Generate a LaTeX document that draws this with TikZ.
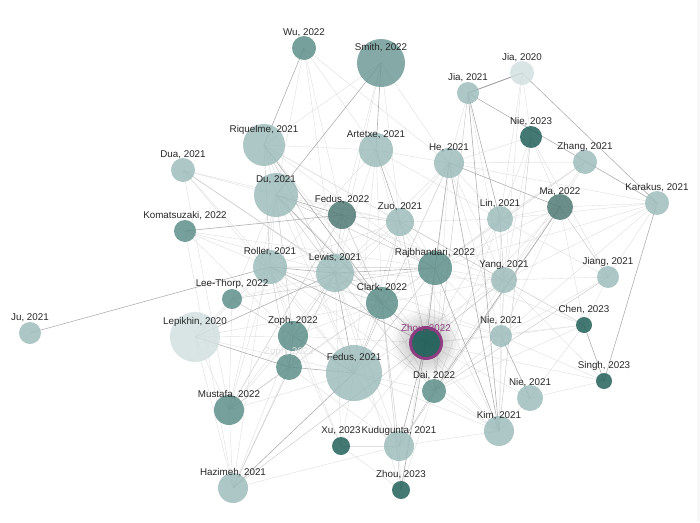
\documentclass[tikz,border=0pt]{standalone}
\usepackage{fontspec}
\setmainfont{Liberation Sans}
\usetikzlibrary{backgrounds}

\definecolor{yrA}{HTML}{D2E0DF} % 2020
\definecolor{yrB}{HTML}{9DBDBB} % 2021
\definecolor{yrC}{HTML}{5E8F8A} % 2022
\definecolor{yrD}{HTML}{22605A} % 2023
\definecolor{hilite}{HTML}{8E3D80}
\definecolor{labeltext}{HTML}{262626}

\begin{document}
\begin{tikzpicture}[x=1pt, y=-1pt]
		\tikzstyle{paper}=[circle, inner sep=0pt, fill opacity=0.85]
		\tikzstyle{lbl}=[font=\fontsize{9.8}{11}\selectfont, text=labeltext, text opacity=1, fill opacity=1, inner sep=0pt, yshift=15pt]
		\tikzstyle{weak}=[gray!26, line width=0.4pt]
		\tikzstyle{mid}=[gray!42, line width=0.45pt]
		\tikzstyle{strong}=[gray!62, line width=0.6pt]

		\useasboundingbox (0,0) rectangle (700,522);
		\fill[gray!6] (697,0) rectangle (700,522);

		% papers, coloured by year
		\node[paper, fill=yrC, minimum size=24pt, label={[lbl]center:{Wu, 2022}}] (wu) at (304,48) {};
		\node[paper, fill=yrC!90!white, minimum size=48pt, label={[lbl]center:{Smith, 2022}}] (smith) at (381,63) {};
		\node[paper, fill=yrB, minimum size=42pt, label={[lbl]center:{Riquelme, 2021}}] (riquelme) at (264,145) {};
		\node[paper, fill=yrB, minimum size=24pt, label={[lbl]center:{Dua, 2021}}] (dua) at (183,170) {};
		\node[paper, fill=yrB, minimum size=44pt, label={[lbl]center:{Du, 2021}}] (du) at (276,195) {};
		\node[paper, fill=yrC!85!black, minimum size=28pt, label={[lbl]center:{Fedus, 2022}}] (fedus22) at (342,215) {};
		\node[paper, fill=yrC, minimum size=22pt, label={[lbl]center:{Komatsuzaki, 2022}}] (komatsuzaki) at (185,231) {};
		\node[paper, fill=yrB, minimum size=34pt, label={[lbl]center:{Roller, 2021}}] (roller) at (270,267) {};
		\node[paper, fill=yrB, minimum size=34pt, label={[lbl]center:{Artetxe, 2021}}] (artetxe) at (376,150) {};
		\node[paper, fill=yrB, minimum size=22pt, label={[lbl]center:{Jia, 2021}}] (jia21) at (468,93) {};
		\node[paper, fill=yrA, minimum size=24pt, label={[lbl]center:{Jia, 2020}}] (jia20) at (522,73) {};
		\node[paper, fill=yrD, minimum size=22pt, label={[lbl]center:{Nie, 2023}}] (nie23) at (531,137) {};
		\node[paper, fill=yrB, minimum size=24pt, label={[lbl]center:{Zhang, 2021}}] (zhang) at (585,162) {};
		\node[paper, fill=yrB, minimum size=24pt, label={[lbl]center:{Karakus, 2021}}] (karakus) at (657,203) {};
		\node[paper, fill=yrB, minimum size=30pt, label={[lbl]center:{He, 2021}}] (he) at (449,163) {};
		\node[paper, fill=yrC!85!black, minimum size=26pt, label={[lbl]center:{Ma, 2022}}] (ma) at (560,207) {};
		\node[paper, fill=yrB, minimum size=26pt, label={[lbl]center:{Lin, 2021}}] (lin) at (500,219) {};
		\node[paper, fill=yrB, minimum size=28pt, label={[lbl]center:{Zuo, 2021}}] (zuo) at (400,222) {};
		\node[paper, fill=yrC, minimum size=34pt, label={[lbl]center:{Rajbhandari, 2022}}] (rajb) at (435,268) {};
		\node[paper, fill=yrB, minimum size=38pt, label={[lbl]center:{Lewis, 2021}}] (lewis) at (335,273) {};
		\node[paper, fill=yrC, minimum size=20pt, label={[lbl]center:{Lee-Thorp, 2022}}] (leethorp) at (232,299) {};
		\node[paper, fill=yrC, minimum size=32pt, label={[lbl]center:{Clark, 2022}}] (clark) at (382,303) {};
		\node[paper, fill=yrC, minimum size=30pt, label={[lbl]center:{Zoph, 2022}}] (zoph) at (293,336) {};
		\node[paper, fill=yrC, minimum size=26pt, label={[lbl, text=gray!25]center:{Zoph, 2022}}] (zophb) at (289,367) {};
		\node[paper, fill=yrB, minimum size=56pt, label={[lbl]center:{Fedus, 2021}}] (fedus21) at (354,373) {};
		\node[paper, fill=yrC, minimum size=24pt, label={[lbl]center:{Dai, 2022}}] (dai) at (434,391) {};
		\node[paper, fill=yrB, minimum size=26pt, label={[lbl]center:{Yang, 2021}}] (yang) at (504,280) {};
		\node[paper, fill=yrB, minimum size=22pt, label={[lbl]center:{Jiang, 2021}}] (jiang) at (608,277) {};
		\node[paper, fill=yrD, minimum size=16pt, label={[lbl]center:{Chen, 2023}}] (chen) at (584,325) {};
		\node[paper, fill=yrB, minimum size=22pt, label={[lbl]center:{Nie, 2021}}] (nie21a) at (501,336) {};
		\node[paper, fill=yrD, minimum size=16pt, label={[lbl]center:{Singh, 2023}}] (singh) at (604,381) {};
		\node[paper, fill=yrB, minimum size=26pt, label={[lbl]center:{Nie, 2021}}] (nie21b) at (530,398) {};
		\node[paper, fill=yrB, minimum size=30pt, label={[lbl]center:{Kim, 2021}}] (kim) at (499,431) {};
		\node[paper, fill=yrB, minimum size=30pt, label={[lbl]center:{Kudugunta, 2021}}] (kudu) at (399,446) {};
		\node[paper, fill=yrD, minimum size=18pt, label={[lbl]center:{Zhou, 2023}}] (zhou23) at (401,490) {};
		\node[paper, fill=yrD, minimum size=18pt, label={[lbl]center:{Xu, 2023}}] (xu) at (341,446) {};
		\node[paper, fill=yrB, minimum size=30pt, label={[lbl]center:{Hazimeh, 2021}}] (hazimeh) at (233,488) {};
		\node[paper, fill=yrC, minimum size=30pt, label={[lbl]center:{Mustafa, 2022}}] (mustafa) at (229,410) {};
		\node[paper, fill=yrA, minimum size=50pt, label={[lbl]center:{Lepikhin, 2020}}] (lepikhin) at (195,337) {};
		\node[paper, fill=yrB, minimum size=22pt, label={[lbl]center:{Ju, 2021}}] (ju) at (30,333) {};
		% the selected paper
		\node[paper, fill=yrD, fill opacity=0.95, draw=hilite, line width=3pt, minimum size=31pt,
			label={[lbl, text=hilite, yshift=-0.5pt]center:{Zhou, 2022}}] (zhou22) at (426,343) {};

		\begin{scope}[on background layer]
			\foreach \a/\b in {wu/du, wu/artetxe, wu/lewis, wu/he, wu/fedus22, smith/riquelme, smith/he, smith/fedus22,
				smith/zuo, smith/lewis, riquelme/artetxe, riquelme/du, riquelme/rajb, riquelme/zuo,
				riquelme/fedus21, riquelme/zhou22, dua/du, dua/roller, dua/lewis, dua/fedus21, dua/mustafa,
				du/roller, du/zuo, du/fedus21, du/zhou22, du/hazimeh, du/mustafa, du/leethorp,
				komatsuzaki/roller, komatsuzaki/lewis, komatsuzaki/hazimeh, komatsuzaki/rajb, artetxe/he, artetxe/lewis,
				artetxe/roller, artetxe/rajb, artetxe/clark, artetxe/fedus21, artetxe/zhou22, artetxe/lin, he/zuo, he/lin,
				he/yang, he/nie21a, he/zhou22, he/dai, he/zhang, he/lewis, jia20/lin, jia20/nie23, jia20/yang, jia21/he,
				jia21/yang, nie23/ma, nie23/lin, nie23/he, nie23/yang, zhang/ma, zhang/lin, zhang/yang, zhang/clark,
				karakus/ma, karakus/lin, karakus/yang, karakus/jiang, karakus/nie21a, karakus/rajb, karakus/he,
				ma/lin, ma/yang, ma/rajb, ma/zhou22, ma/nie21a, ma/chen, lin/rajb, lin/zuo, lin/zhou22, lin/nie21a,
				lin/dai, zuo/rajb, zuo/lewis, zuo/roller, zuo/fedus21, zuo/zoph, zuo/kim, rajb/yang,
				rajb/clark, rajb/nie21a, rajb/dai, rajb/chen, lewis/leethorp,
				lewis/mustafa, lewis/kudu, roller/leethorp, roller/zoph, roller/fedus21, roller/mustafa,
				roller/xu, clark/dai, clark/yang, clark/nie21a, clark/kim, zoph/clark, zoph/zhou22,
				zoph/mustafa, zoph/hazimeh, zoph/xu, zophb/hazimeh, zophb/kudu, zophb/clark, fedus21/kudu, fedus21/xu,
				fedus21/dai, fedus21/kim, fedus21/yang, fedus21/mustafa, zhou22/yang, zhou22/nie21a, zhou22/kim,
				zhou22/nie21b, zhou22/xu, zhou22/chen, zhou22/singh, dai/nie21a, dai/kim, dai/yang, dai/chen,
				yang/nie21a, yang/jiang, yang/singh, yang/kim, nie21a/kim, nie21a/chen, nie21b/singh, nie21b/kim,
				nie21a/jiang, kim/kudu, kudu/xu, kudu/zhou23, kudu/hazimeh, xu/zhou23, mustafa/hazimeh,
				mustafa/leethorp, leethorp/lepikhin, lepikhin/roller, lepikhin/mustafa, lepikhin/hazimeh,
				lepikhin/fedus21, lepikhin/zoph, lepikhin/clark, zhou23/rajb, zhou23/lewis, zhou23/dai, xu/lewis,
				chen/jiang, chen/nie21b, singh/nie21a, jiang/nie23, mustafa/clark, jiang/lin, zhang/rajb,
				komatsuzaki/zoph, dua/zuo, riquelme/yang, du/yang, lewis/yang, roller/kim, lewis/nie21a}
				\draw[weak] (\a.center) -- (\b.center);

			\foreach \a/\b in {du/lewis, riquelme/roller, fedus22/zuo, leethorp/zoph, mustafa/fedus22, hazimeh/lewis,
				dai/kudu, yang/chen, jiang/dai, zuo/yang, nie23/kim, lin/yang, clark/fedus21, ma/kudu, he/fedus21,
				roller/rajb, fedus22/rajb, fedus22/clark, fedus22/lewis, jia21/dai, yang/zhou22, zuo/zhou22,
				leethorp/rajb, zhou23/clark, ma/jiang, mustafa/zophb, hazimeh/zhou22, lewis/dai,
				lewis/clark, roller/clark, du/rajb, zuo/clark, rajb/fedus21, clark/kudu, roller/zophb, lewis/zoph,
				du/zoph, riquelme/lewis, dua/clark}
				\draw[mid] (\a.center) -- (\b.center);

			\foreach \a/\b in {jia20/karakus, jia21/karakus, ju/roller, wu/riquelme, smith/du, smith/artetxe,
				lepikhin/zophb, lepikhin/lewis, zoph/zophb, zophb/fedus21, roller/lewis, lewis/rajb, he/ma,
				nie21a/nie21b, chen/singh, hazimeh/fedus21, karakus/singh, du/fedus22, komatsuzaki/fedus22,
				riquelme/clark, du/clark, roller/zhou22, clark/zhou22, rajb/zhou22, zhou22/kudu, zhou22/zhou23,
				jia21/lin, jia21/kim, he/kim, ma/dai, rajb/kim, zoph/fedus21, lewis/fedus21, he/rajb, artetxe/zuo}
				\draw[strong] (\a.center) -- (\b.center);

			\draw[gray!75, line width=0.9pt] (jia21.center) -- (jia20.center);
		\end{scope}

		% glow round the selected paper
		\begin{scope}[on background layer]
			\foreach \rr in {34,30,27,24,21}
				\fill[gray, opacity=0.07] (zhou22.center) circle (\rr pt);
		\end{scope}

	\end{tikzpicture}
\end{document}
